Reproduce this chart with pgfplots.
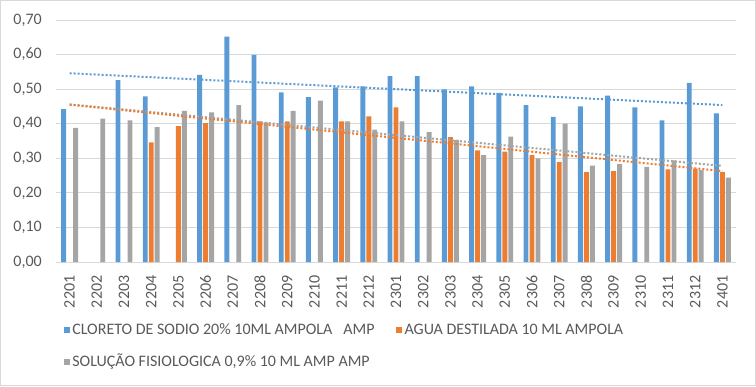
\documentclass[border=0pt]{standalone}
\usepackage{pgfplots}
\pgfplotsset{compat=1.18}
\usepackage{fontspec}
\setmainfont{Carlito}
\definecolor{cblue}{HTML}{5B9BD5}
\definecolor{corange}{HTML}{ED7D31}
\definecolor{cgray}{HTML}{A5A5A5}
\definecolor{gridc}{HTML}{D9D9D9}
\definecolor{txt}{HTML}{595959}
\begin{document}
\begin{tikzpicture}
\useasboundingbox (0,0) rectangle (567pt,289.5pt);
\draw[gridc, line width=0.75pt] (0.4pt,0.4pt) rectangle (566.6pt,289.1pt);
\begin{axis}[
  at={(42pt,93pt)}, anchor=south west,
  scale only axis, width=510pt, height=181.5pt,
  xmin=-0.5, xmax=24.5, ymin=0, ymax=0.7,
  ytick={0,0.1,0.2,0.3,0.4,0.5,0.6,0.7},
  xtick={0,...,24},
  xticklabels={2201,2202,2203,2204,2205,2206,2207,2208,2209,2210,2211,2212,2301,2302,2303,2304,2305,2306,2307,2308,2309,2310,2311,2312,2401},
  ymajorgrids, grid style={gridc, line width=0.75pt},
  axis line style={draw=none}, tick style={draw=none}, major tick length=0pt,
  /pgf/number format/assume math mode=true,
  yticklabel={\pgfmathprintnumber[fixed,fixed zerofill,precision=2,use comma]{\tick}},
  y tick label style={font=\fontsize{12}{14}\selectfont, color=txt, inner sep=0pt},
  yticklabel shift=10.5pt,
  x tick label style={rotate=90, anchor=east, font=\fontsize{12}{14}\selectfont, color=txt, inner sep=0pt},
  xticklabel shift=10pt,
  legend columns=2,
  legend cell align=left,
  legend style={at={(0.005,-0.233)}, anchor=north west, draw=none, fill=none,
    font=\fontsize{12}{14}\selectfont, text=txt, row sep=9pt,
    /tikz/every even column/.append style={column sep=14pt}},
  legend image code/.code={\fill (0pt,-2.25pt) rectangle (4.5pt,2.25pt);},
]
\addplot[ybar, fill=cblue, draw=none, bar width=0.18, bar shift=-0.22] coordinates {
(0,0.442) (2,0.526) (3,0.479) (5,0.541) (6,0.652) (7,0.599) (8,0.491) (9,0.477)
(10,0.505) (11,0.508) (12,0.538) (13,0.538) (14,0.499) (15,0.508) (16,0.489)
(17,0.454) (18,0.420) (19,0.450) (20,0.481) (21,0.447) (22,0.410) (23,0.518) (24,0.430)};
\addlegendentry{CLORETO DE SODIO 20\% 10ML AMPOLA\ \ \ AMP}
\addplot[ybar, fill=corange, draw=none, bar width=0.18, bar shift=0] coordinates {
(3,0.346) (4,0.393) (5,0.402) (7,0.407) (8,0.407) (10,0.407) (11,0.421) (12,0.447)
(14,0.361) (15,0.323) (16,0.319) (17,0.309) (18,0.289) (19,0.260) (20,0.263)
(22,0.268) (23,0.270) (24,0.260)};
\addlegendentry{AGUA DESTILADA 10 ML AMPOLA}
\addplot[ybar, fill=cgray, draw=none, bar width=0.18, bar shift=0.22] coordinates {
(0,0.388) (1,0.415) (2,0.410) (3,0.390) (4,0.437) (5,0.433) (6,0.454) (7,0.404)
(8,0.437) (9,0.467) (10,0.407) (11,0.383) (12,0.407) (13,0.376) (14,0.353)
(15,0.309) (16,0.363) (17,0.300) (18,0.400) (19,0.279) (20,0.283) (21,0.275)
(22,0.294) (23,0.266) (24,0.244)};
\addlegendentry{SOLUÇÃO FISIOLOGICA 0,9\% 10 ML AMP AMP}
\addplot[forget plot, cblue, line width=1.5pt, dash pattern=on 1.5pt off 1.5pt] coordinates {(0,0.546) (24,0.454)};
\addplot[forget plot, cgray, line width=1.5pt, dash pattern=on 1.5pt off 1.5pt] coordinates {(0,0.456) (24,0.278)};
\addplot[forget plot, corange, line width=1.5pt, dash pattern=on 1.5pt off 1.5pt] coordinates {(0,0.455) (24,0.263)};
\end{axis}
\end{tikzpicture}
\end{document}
